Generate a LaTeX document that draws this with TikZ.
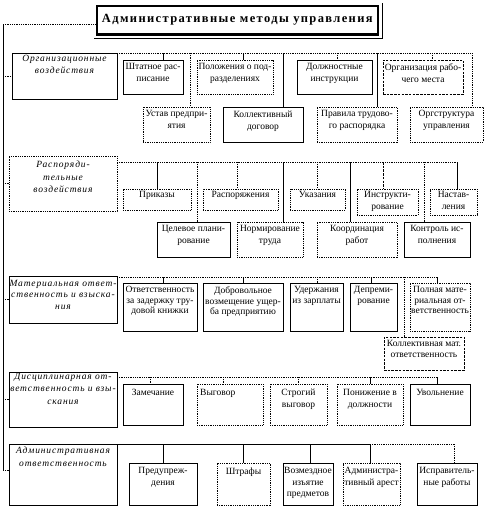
\documentclass[tikz,border=0pt]{standalone}
\usepackage{fontspec}
\setmainfont{Liberation Serif}
\newfontfamily\ttlfont[LetterSpace=11]{Liberation Serif}
\newfontfamily\itfnt[LetterSpace=9]{Liberation Serif}
\tikzset{
  sol/.style={draw, line width=0.8pt},
  dotl/.style={draw, line width=0.9pt, dash pattern=on 0.9pt off 0.9pt},
  dsh/.style={draw, line width=0.8pt, dash pattern=on 2.5pt off 1.2pt},
  boxbase/.style={rectangle, inner sep=0pt, outer sep=0pt, anchor=north west},
  txt/.style={inner sep=0pt, align=center, anchor=north, yshift=-3.5pt, font=\fontsize{9.5}{12}\selectfont},
  txtc/.style={txt, font=\fontsize{9.5}{10.5}\selectfont},
  itx/.style={inner sep=0pt, align=center, anchor=north, yshift=-2pt, font=\itfnt\itshape\fontsize{9.5}{12.5}\selectfont},
}
\newcommand\mybox[8][txt]{%
  \node[boxbase,#2,minimum width={(#6-#4)*1pt},minimum height={(#7-#5)*1pt}] (#3) at (#4,#5) {};
  \node[#1] (#3-t) at (#3.north) {#8};}
\newcommand\drop[4]{\draw[#1] (#2,#3) coordinate (dtmp) -- (dtmp |- #4.north);}
\begin{document}
\begin{tikzpicture}[x=1pt,y=-1pt]
\useasboundingbox (0,0) rectangle (487,507);
% title
\node[draw, line width=2.6pt, minimum width=281pt, minimum height=28.5pt, inner sep=0pt, anchor=north west,
      font=\ttlfont\bfseries\fontsize{12.5}{14}\selectfont] (title) at (95.5,4.5) {Административные методы управления};
\draw[line width=0.8pt] ([xshift=3pt,yshift=1.3pt]title.north east) -- ([xshift=3pt,yshift=-3pt]title.south east) -- ([xshift=-1.3pt,yshift=-3pt]title.south west);
% main line
\coordinate (m0) at (3,24);
\coordinate (m1) at (3,470);
\draw[dotl] (m0) -- (m0 -| title.west);
\draw[sol] (m0) -- (m1);

% ===== Section 1
\mybox[itx]{sol}{L1}{12}{53}{117}{99}{Организационные\\воздействия}
\mybox{sol}{S1a}{123}{60}{183}{94}{Штатное рас-\\писание}
\mybox{dotl}{S1b}{197}{60}{273}{94}{Положения о под-\\разделениях}
\mybox{sol}{S1c}{297}{60}{372}{94}{Должностные\\инструкции}
\mybox{dsh}{S1d}{383}{60}{463}{94}{Организация рабо-\\чего места}
\mybox{dotl}{S1e}{143}{107}{210}{142}{Устав предпри-\\ятия}
\mybox{sol}{S1f}{223}{107}{303}{142}{Коллективный\\договор}
\mybox{dotl}{S1g}{317}{107}{397}{142}{Правила трудово-\\го распорядка}
\mybox{dotl}{S1h}{410}{107}{483}{142}{Оргструктура\\управления}
\coordinate (b1e) at (472,53);
\draw[dotl] (b1e -| L1.east) -- (b1e);
\drop{sol}{163}{53}{S1a}
\drop{sol}{243}{53}{S1b}
\drop{dotl}{337}{53}{S1c}
\drop{dotl}{432}{53}{S1d}
\drop{dotl}{190}{53}{S1e}
\drop{sol}{283}{53}{S1f}
\drop{sol}{377}{53}{S1g}
\drop{dotl}{472}{53}{S1h}
\draw[dotl] (m0 |- L1.west) -- (L1.west);

% ===== Section 2
\mybox[itx,yshift=-3pt]{dotl}{L2}{9}{156}{117}{211}{Распоряди-\\тельные\\воздействия}
\mybox[txt,yshift=1.5pt]{dotl}{S2a}{123}{189}{191}{210}{Приказы}
\mybox[txt,yshift=1.5pt]{dotl}{S2b}{203}{189}{278}{210}{Распоряжения}
\mybox[txt,yshift=1.5pt]{dotl}{S2c}{290}{189}{345}{210}{Указания}
\mybox[txt,yshift=1.5pt]{dotl}{S2d}{357}{189}{418}{215}{Инструкти-\\рование}
\mybox[txt,yshift=1.5pt]{dotl}{S2e}{430}{189}{477}{215}{Настав-\\ления}
\mybox{sol}{S2f}{157}{222}{230}{257}{Целевое плани-\\рование}
\mybox{dotl}{S2g}{237}{222}{303}{257}{Нормирование\\труда}
\mybox{dotl}{S2h}{317}{222}{397}{257}{Координация\\работ}
\mybox{sol}{S2i}{404}{222}{470}{257}{Контроль ис-\\полнения}
\coordinate (b2e) at (457,162);
\draw[dotl] (b2e -| L2.east) -- (b2e);
\drop{sol}{157}{162}{S2a}
\drop{dotl}{237}{162}{S2b}
\drop{dotl}{317}{162}{S2c}
\drop{dsh}{383}{162}{S2d}
\drop{sol}{457}{162}{S2e}
\drop{dotl}{197}{162}{S2f}
\drop{sol}{283}{162}{S2g}
\drop{sol}{350}{162}{S2h}
\drop{dotl}{424}{162}{S2i}
\draw[dotl] (m0 |- L2.west) -- (L2.west);

% ===== Section 3
\mybox[itx,yshift=-2pt,font=\itfnt\itshape\fontsize{9.5}{11.5}\selectfont]{sol}{L3}{9}{276}{117}{323}{Материальная ответ-\\ственность и взыска-\\ния}
\mybox[txtc]{sol}{S3a}{123}{283}{197}{331}{Ответственность\\за задержку тру-\\довой книжки}
\mybox[txtc]{sol}{S3b}{203}{283}{283}{331}{Добровольное\\возмещение ущер-\\ба предприятию}
\mybox[txtc]{sol}{S3c}{290}{283}{343}{331}{Удержания\\из зарплаты}
\mybox[txtc]{sol}{S3d}{350}{283}{397}{331}{Депреми-\\рование}
\mybox[txtc]{dotl}{S3e}{410}{283}{470}{331}{Полная мате-\\риальная от-\\ветственность}
\mybox[txtc]{dsh}{S3f}{384}{337}{464}{370}{Коллективная мат.\\ответственность}
\coordinate (b3e) at (437,277);
\draw[dotl] (b3e -| L3.east) -- (b3e);
\drop{sol}{163}{277}{S3a}
\drop{sol}{243}{277}{S3b}
\drop{dotl}{317}{277}{S3c}
\drop{sol}{371}{277}{S3d}
\drop{sol}{437}{277}{S3e}
\drop{dotl}{404}{277}{S3f}
\draw[dotl] (m0 |- L3.west) -- (L3.west);

% ===== Section 4
\mybox[itx,yshift=1pt]{sol}{L4}{9}{372}{117}{427}{Дисциплинарная от-\\ветственность и взы-\\скания}
\mybox[txt,yshift=-1.5pt]{sol}{S4a}{123}{384}{183}{425}{Замечание}
\node[boxbase,dotl,minimum width=66pt,minimum height=41pt] (S4b) at (197,384) {};
\node[txt,anchor=north west,yshift=-1.5pt,xshift=3pt] (S4b-t) at (S4b.north west) {Выговор};
\mybox[txt,yshift=-1.5pt]{dotl}{S4c}{270}{384}{327}{425}{Строгий\\выговор}
\mybox[txt,yshift=-1.5pt]{dotl}{S4d}{337}{384}{403}{425}{Понижение в\\должности}
\mybox[txt,yshift=-1.5pt]{sol}{S4e}{410}{384}{470}{425}{Увольнение}
\coordinate (b4e) at (437,377);
\draw[dotl] (b4e -| L4.east) -- (b4e);
\drop{dotl}{150}{377}{S4a}
\drop{dotl}{223}{377}{S4b}
\drop{dotl}{298}{377}{S4c}
\drop{sol}{370}{377}{S4d}
\drop{sol}{437}{377}{S4e}
\draw[dotl] (m0 |- L4.west) -- (L4.west);

% ===== Section 5
\mybox[itx,yshift=-1pt]{sol}{L5}{9}{444}{117}{505}{Административная\\ответственность}
\mybox[txt,yshift=-1pt]{sol}{S5a}{129}{463}{197}{505}{Предупреж-\\дения}
\mybox[txt,yshift=-1pt]{dotl}{S5b}{217}{463}{270}{505}{Штрафы}
\mybox[txt,yshift=-1pt,font=\fontsize{9.5}{11.3}\selectfont]{sol}{S5c}{283}{463}{333}{505}{Возмездное\\изъятие\\предметов}
\mybox[txt,yshift=-1pt]{dotl}{S5d}{343}{463}{400}{505}{Администра-\\тивный арест}
\mybox[txt,yshift=-1pt]{sol}{S5e}{417}{463}{477}{505}{Исправитель-\\ные работы}
\coordinate (b5m) at (370,444);
\coordinate (b5e) at (454,444);
\draw[sol] (L5.north east) -- (b5m);
\draw[dotl] (b5m) -- (b5e);
\drop{sol}{163}{444}{S5a}
\drop{sol}{243}{444}{S5b}
\drop{sol}{310}{444}{S5c}
\drop{sol}{370}{444}{S5d}
\drop{dotl}{454}{444}{S5e}
\draw[dotl] (m1) -- (m1 -| L5.west);
\end{tikzpicture}
\end{document}
